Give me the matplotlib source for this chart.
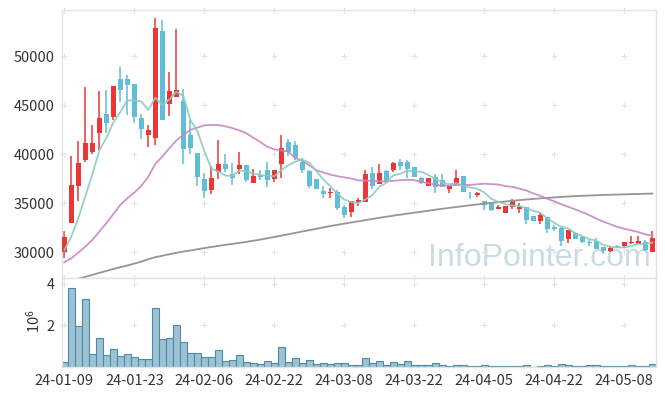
import matplotlib
matplotlib.use('Agg')
import matplotlib.pyplot as plt
import numpy as np
from matplotlib.ticker import FuncFormatter

# ---------------- data ----------------
dates = [
    '2024-01-09', '2024-01-10', '2024-01-11', '2024-01-12', '2024-01-15', '2024-01-16', '2024-01-17',
    '2024-01-18', '2024-01-19', '2024-01-22', '2024-01-23', '2024-01-24', '2024-01-25', '2024-01-26',
    '2024-01-29', '2024-01-30', '2024-01-31', '2024-02-01', '2024-02-02', '2024-02-05', '2024-02-06',
    '2024-02-07', '2024-02-08', '2024-02-13', '2024-02-14', '2024-02-15', '2024-02-16', '2024-02-19',
    '2024-02-20', '2024-02-21', '2024-02-22', '2024-02-23', '2024-02-26', '2024-02-27', '2024-02-28',
    '2024-02-29', '2024-03-04', '2024-03-05', '2024-03-06', '2024-03-07', '2024-03-08', '2024-03-11',
    '2024-03-12', '2024-03-13', '2024-03-14', '2024-03-15', '2024-03-18', '2024-03-19', '2024-03-20',
    '2024-03-21', '2024-03-22', '2024-03-25', '2024-03-26', '2024-03-27', '2024-03-28', '2024-03-29',
    '2024-04-01', '2024-04-02', '2024-04-03', '2024-04-04', '2024-04-05', '2024-04-08', '2024-04-09',
    '2024-04-11', '2024-04-12', '2024-04-15', '2024-04-16', '2024-04-17', '2024-04-18', '2024-04-19',
    '2024-04-22', '2024-04-23', '2024-04-24', '2024-04-25', '2024-04-26', '2024-04-29', '2024-04-30',
    '2024-05-02', '2024-05-03', '2024-05-07', '2024-05-08', '2024-05-09', '2024-05-10', '2024-05-13',
    '2024-05-14',
]

opens = [30050, 32950, 36800, 39450, 40250, 42200, 44100, 43750, 47700, 47700,
         47200, 43700, 42000, 41700, 52550, 45150, 45800, 45450, 41950, 40100,
         37500, 36350, 38150, 39000, 38000, 38500, 38900, 37100, 37900, 38400,
         37500, 39050, 41200, 40950, 39250, 38250, 37500, 36300, 36000, 36100,
         34650, 34150, 35100, 35150, 38100, 37000, 38250, 38350, 39200, 39200,
         38700, 37550, 36800, 37650, 37400, 36450, 36850, 37800, 35950, 35800,
         35250, 35150, 34400, 34050, 34600, 34450, 34600, 33750, 33150, 33650,
         32550, 32450, 31350, 32000, 31600, 31100, 31150, 30500, 30150, 30600,
         30650, 30900, 30850, 31100, 30050]
highs = [32200, 39850, 41350, 46850, 42950, 46450, 46550, 47000, 48900, 48050,
         47200, 44100, 42950, 53900, 53650, 48350, 52750, 46700, 43450, 40100,
         38050, 38850, 41450, 40000, 39100, 40250, 38900, 38450, 38350, 39200,
         38400, 41950, 41550, 41300, 39600, 38400, 37500, 36750, 36550, 36350,
         34850, 35200, 35500, 38400, 38650, 39000, 38350, 39250, 39500, 39400,
         38700, 37650, 37600, 38000, 38000, 36750, 38400, 37800, 36200, 36200,
         35250, 35150, 34850, 34750, 35400, 35000, 34600, 33750, 34000, 33650,
         32800, 32600, 32300, 32100, 31650, 31250, 31450, 30500, 30600, 30750,
         31000, 31700, 31700, 31250, 32200]
lows = [29400, 32950, 35250, 39250, 40050, 40400, 42150, 43450, 45350, 44000,
        43150, 41550, 40750, 40950, 43450, 43850, 45800, 39050, 40050, 36750,
        35500, 35900, 37450, 38150, 36850, 38000, 37200, 37100, 37400, 36650,
        37150, 37600, 39850, 39400, 38050, 36550, 36450, 35500, 35500, 34300,
        33450, 33650, 34750, 35150, 36450, 37000, 37100, 38200, 38350, 37550,
        37650, 36950, 36800, 36000, 36650, 36000, 36850, 36200, 35400, 35600,
        34300, 34250, 34400, 34050, 34400, 34000, 32900, 33150, 32850, 31950,
        32200, 30650, 30900, 31350, 30900, 30650, 30350, 29900, 30050, 30400,
        30400, 30850, 30850, 30150, 30050]
closes = [31550, 36850, 39100, 41150, 41150, 43700, 43150, 46950, 46550, 47100,
          43750, 42600, 42500, 52850, 43450, 46450, 46550, 40500, 40600, 37700,
          36300, 37600, 39000, 38500, 37600, 38900, 37400, 37800, 37700, 37400,
          38400, 40650, 40200, 39600, 38400, 36750, 36450, 35950, 36150, 34550,
          33800, 35200, 35350, 38000, 36800, 38100, 37200, 39150, 38750, 38450,
          37650, 37050, 37550, 36700, 36650, 36750, 37550, 36200, 35900, 36000,
          34850, 34300, 34650, 34750, 35250, 34650, 33300, 33150, 33800, 32400,
          32400, 31200, 32300, 31350, 31000, 30900, 30350, 30150, 30450, 30550,
          31000, 31100, 31200, 30250, 31450]
volume_m = [0.26, 3.81, 1.95, 3.26, 0.63, 1.38, 0.59, 0.87, 0.54, 0.63,
            0.49, 0.40, 0.40, 2.84, 1.34, 1.38, 2.04, 1.20, 0.68, 0.68,
            0.49, 0.49, 0.82, 0.31, 0.35, 0.59, 0.26, 0.21, 0.16, 0.31,
            0.21, 0.96, 0.26, 0.43, 0.21, 0.34, 0.16, 0.21, 0.16, 0.21,
            0.21, 0.12, 0.12, 0.43, 0.21, 0.31, 0.12, 0.26, 0.16, 0.31,
            0.12, 0.12, 0.12, 0.21, 0.12, 0.07, 0.12, 0.12, 0.07, 0.07,
            0.12, 0.07, 0.07, 0.07, 0.07, 0.07, 0.12, 0.00, 0.07, 0.12,
            0.07, 0.16, 0.12, 0.07, 0.07, 0.12, 0.12, 0.07, 0.07, 0.07,
            0.07, 0.12, 0.07, 0.07, 0.16]
ma5 = [30200, 31600, 33500, 35700, 37960, 40390, 41650, 43220, 44300, 45490,
       45500, 45390, 44500, 45760, 45030, 45570, 46360, 45960, 43510, 42360,
       40330, 38540, 38240, 37820, 37800, 38320, 38280, 38040, 37880, 37840,
       37740, 38390, 38870, 39250, 39450, 39120, 38280, 37430, 36740, 35970,
       35380, 35130, 35010, 35380, 35830, 36690, 37090, 37850, 38000, 38330,
       38240, 38210, 37890, 37480, 37120, 36940, 37040, 36770, 36610, 36480,
       36100, 35450, 35140, 34910, 34760, 34720, 34520, 34220, 34030, 33460,
       33010, 32590, 32420, 31930, 31650, 31350, 31180, 30750, 30570, 30480,
       30500, 30650, 30860, 30820, 31000]
ma20 = [28980, 29390, 29970, 30580, 31260, 32110, 32960, 33900, 34830, 35510,
        36090, 36770, 37720, 39010, 39760, 40610, 41400, 41970, 42480, 42710,
        42950, 42985, 42980, 42850, 42670, 42430, 42140, 41685, 41245, 40760,
        40490, 40395, 40280, 39615, 39365, 38880, 38375, 38145, 37925, 37765,
        37640, 37520, 37340, 37315, 37275, 37235, 37225, 37290, 37345, 37395,
        37360, 37180, 37045, 36900, 36815, 36815, 36870, 36880, 36870, 36940,
        36995, 36950, 36915, 36750, 36675, 36500, 36305, 36005, 35760, 35455,
        35195, 34900, 34640, 34370, 34090, 33795, 33435, 33135, 32860, 32590,
        32395, 32235, 32065, 31840, 31650]
ma120 = [26900, 27100, 27300, 27500, 27700, 27900, 28100, 28300, 28480, 28650,
         28850, 29050, 29300, 29500, 29650, 29800, 29950, 30070, 30190, 30310,
         30430, 30540, 30650, 30760, 30860, 30960, 31060, 31180, 31300, 31430,
         31560, 31700, 31840, 31980, 32120, 32260, 32400, 32540, 32680, 32800,
         32920, 33040, 33160, 33280, 33400, 33520, 33630, 33740, 33840, 33940,
         34040, 34140, 34240, 34340, 34440, 34530, 34620, 34710, 34800, 34880,
         34960, 35040, 35110, 35180, 35250, 35320, 35380, 35440, 35500, 35550,
         35600, 35650, 35690, 35730, 35760, 35790, 35820, 35850, 35870, 35890,
         35910, 35930, 35950, 35970, 35990]

tick_idx = [0, 10, 20, 30, 40, 50, 60, 70, 80]
price_ticks = [30000, 35000, 40000, 45000, 50000]
vol_ticks = [2, 4]

# ---------------- style ----------------
plt.rcParams['font.family'] = ['Noto Sans CJK KR', 'DejaVu Sans']
RED = '#ee3535'
BLUE = '#62bdd7'
TEXT = '#333333'
SPINE = '#e3e3e3'
CROSS = '#e4e4e4'
FS = 10.5

fig = plt.figure(figsize=(6.65, 3.96), dpi=100)
fig.patch.set_facecolor('white')
ax = fig.add_axes([0.0925, 0.298, 0.894, 0.677])
axv = fig.add_axes([0.0925, 0.0732, 0.894, 0.2247], sharex=ax)

x = np.arange(len(dates))
o = np.array(opens, float)
h = np.array(highs, float)
l = np.array(lows, float)
c = np.array(closes, float)
up = c >= o
cols = np.where(up, RED, BLUE)

# watermark
ax.text(0.803, 0.045, 'InfoPointer.com', transform=ax.transAxes, ha='center',
        va='baseline', fontsize=23, color='#c9dbe5', family=['Liberation Sans', 'DejaVu Sans'],
        zorder=0)

# candles
ax.vlines(x, l, h, colors=cols, linewidth=1.1, zorder=2)
body = np.maximum(np.abs(c - o), 70)
ax.bar(x, body, bottom=np.minimum(o, c), width=0.7, color=cols, linewidth=0, zorder=3)

# moving averages
ax.plot(x, ma120, color='#959595', lw=1.3, zorder=4)
ax.plot(x, ma20, color='#c987c2', lw=1.3, alpha=0.9, zorder=4)
ax.plot(x, ma5, color='#8ccbc1', lw=1.3, alpha=0.9, zorder=4)

ax.set_xlim(-0.4, 84.53)
ax.set_ylim(27380, 54720)
ax.set_yticks(price_ticks)
ax.yaxis.set_major_formatter(FuncFormatter(lambda v, p: f'{int(v)}'))
ax.set_xticks(tick_idx)
ax.tick_params(axis='x', labelbottom=False, length=0)
ax.tick_params(axis='y', length=0, pad=5, labelsize=FS, labelcolor=TEXT)

# volume
axv.bar(x, volume_m, width=1.0, color='#9cc2d3', edgecolor='#4f8aa6', linewidth=0.8, zorder=2)
axv.set_ylim(0, 4.27)
axv.set_yticks(vol_ticks)
axv.yaxis.set_major_formatter(FuncFormatter(lambda v, p: f'{int(v)}'))
axv.set_xticks(tick_idx)
axv.set_xticklabels([dates[i][2:] for i in tick_idx])
axv.tick_params(axis='x', length=0, pad=5, labelsize=FS, labelcolor=TEXT)
axv.tick_params(axis='y', length=0, pad=5, labelsize=FS, labelcolor=TEXT)
axv.set_ylabel(r'$\mathregular{10^6}$', fontsize=FS, color=TEXT)
axv.yaxis.set_label_coords(-0.032, 0.52)

for a in (ax, axv):
    for s in a.spines.values():
        s.set_color(SPINE)
        s.set_linewidth(1.0)

# cross-shaped grid marks at tick intersections
for a, yt, ylim in ((ax, price_ticks, ax.get_ylim()), (axv, vol_ticks, axv.get_ylim())):
    ys = list(yt) + [ylim[1]]
    for xt in tick_idx:
        a.plot([xt] * len(ys), ys, linestyle='none', marker='+', markersize=5,
               markeredgewidth=0.8, color=CROSS, zorder=1, clip_on=False)

fig.savefig('out.png', dpi=100)
